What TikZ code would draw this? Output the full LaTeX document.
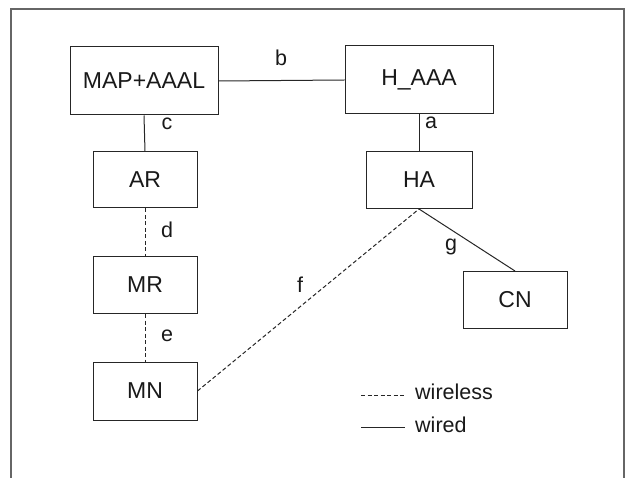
\documentclass[tikz,border=0pt]{standalone}
\usepackage{fontspec}
\setmainfont{Liberation Sans}
\begin{document}
\begin{tikzpicture}[x=1pt,y=-1pt,
  box/.style={draw=black!85,line width=1pt,minimum width=104pt,minimum height=57pt,inner sep=0pt,font=\fontsize{23}{26}\selectfont,text=black!90},
  wide/.style={box,minimum width=148pt,minimum height=68pt},
  lbl/.style={font=\fontsize{21.5}{24}\selectfont,text=black!90,inner sep=0pt},
  wiredline/.style={draw=black!85,line width=1pt},
  wireless/.style={draw=black!85,line width=1pt,dash pattern=on 4pt off 2.5pt},
  frame/.style={draw=black!60,line width=1.3pt}]
\useasboundingbox (0,0) rectangle (626,478);
\draw[frame] (11,478) -- (11,9) -- (624,9) -- (624,478);
\node[wide] (map) at (144,81) {MAP+AAAL};
\node[wide] (haaa) at (419,80) {H\_AAA};
\node[box,minimum height=56pt] (ar) at (145,180) {AR};
\node[box,minimum width=106pt] (ha) at (419,180) {HA};
\node[box] (mr) at (145,285) {MR};
\node[box,minimum height=58pt] (mn) at (145,391) {MN};
\node[box] (cn) at (515,300) {CN};
\draw[wiredline] (map.east) -- (haaa.west);
\draw[wiredline] (map.south) -- (ar.north);
\draw[wiredline] (haaa.south) -- (ha.north);
\draw[wireless] (ar.south) -- (mr.north);
\draw[wireless] (mr.south) -- (mn.north);
\draw[wiredline] (ha.south) -- (cn.north);
\draw[wireless] (mn.east) -- (ha.south);
\node[lbl] (lb) at (281,58) {b};
\node[lbl] (lc) at (167,124) {c};
\node[lbl] (la) at (431,123) {a};
\node[lbl] (ld) at (167,230) {d};
\node[lbl] (le) at (167,336) {e};
\node[lbl] (lf) at (300,285) {f};
\node[lbl] (lg) at (451,247) {g};
\coordinate (w1) at (361,395);
\coordinate (w2) at (405,395);
\coordinate (d1) at (361,427);
\coordinate (d2) at (405,427);
\draw[wireless] (w1) -- (w2);
\draw[wiredline] (d1) -- (d2);
\node[lbl,anchor=west] (lw) at (415,392) {wireless};
\node[lbl,anchor=west] (ld2) at (415,425) {wired};
\end{tikzpicture}
\end{document}
